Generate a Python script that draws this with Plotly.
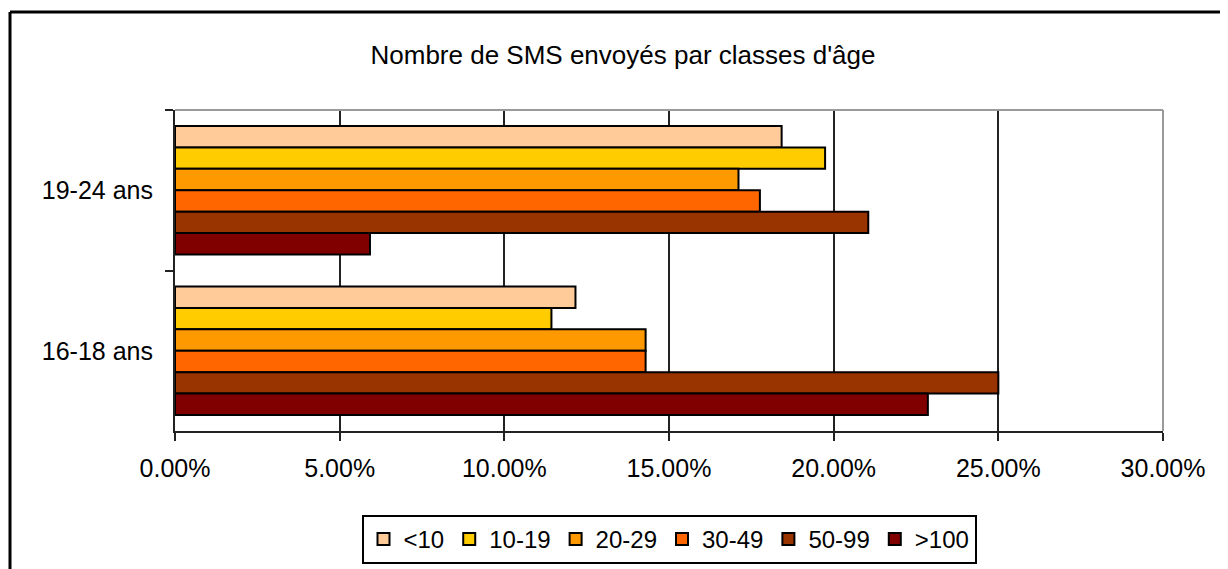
import plotly.graph_objects as go

categories = ["19-24 ans", "16-18 ans"]
series_names = ["<10", "10-19", "20-29", "30-49", "50-99", ">100"]
values_19_24 = [0.1842, 0.1974, 0.1711, 0.1776, 0.2105, 0.0592]
values_16_18 = [0.1216, 0.1143, 0.1429, 0.1429, 0.2500, 0.2286]
colors = ["#FFCC99", "#FFCC00", "#FF9900", "#FF6600", "#993300", "#800000"]
x_ticks = [0, 0.05, 0.10, 0.15, 0.20, 0.25, 0.30]

FONT = "Liberation Sans, Arial, sans-serif"

fig = go.Figure()
for i, name in enumerate(series_names):
    fig.add_trace(go.Bar(
        y=categories,
        x=[values_19_24[i], values_16_18[i]],
        name=name,
        orientation="h",
        marker=dict(color=colors[i], line=dict(color="black", width=2)),
    ))

# the page body has an 8px margin, so the figure starts at (8, 8) in the window
OFF = 8
W, H = 1228, 569
L, T = 175 - OFF, 110 - OFF
R = (W + OFF) - 1163
B = (H + OFF) - 431
pw = W - L - R
ph = H - T - B

def px_x(x):
    return (x - OFF - L) / pw

def px_y(y):
    return (H - B - (y - OFF)) / ph

shapes = [
    dict(type="line", xref="x domain", yref="y domain", x0=0, x1=1, y0=1, y1=1,
         line=dict(color="#9a9a9a", width=2), layer="above"),
    dict(type="line", xref="x domain", yref="y domain", x0=1, x1=1, y0=0, y1=1,
         line=dict(color="#9a9a9a", width=2), layer="above"),
    dict(type="line", xref="paper", yref="paper", x0=px_x(10), x1=px_x(1250), y0=px_y(12), y1=px_y(12),
         line=dict(color="black", width=3)),
    dict(type="line", xref="paper", yref="paper", x0=px_x(10), x1=px_x(10), y0=px_y(12), y1=px_y(590),
         line=dict(color="black", width=3)),
]

fig.update_layout(
    width=W, height=H,
    margin=dict(l=L, r=R, t=T, b=B, pad=0),
    paper_bgcolor="white",
    plot_bgcolor="white",
    barmode="group",
    bargap=0.2,
    bargroupgap=0,
    font=dict(family=FONT, size=25, color="black"),
    title=dict(text="Nombre de SMS envoyés par classes d'âge", x=(623 - OFF) / W, xref="container",
               xanchor="center", y=1 - (55 - OFF) / H, yanchor="middle", yref="container",
               font=dict(family=FONT, size=26, color="black")),
    showlegend=True,
    legend=dict(orientation="h", x=0.5, xanchor="center", y=px_y(515), yanchor="top",
                bgcolor="white", bordercolor="black", borderwidth=2, traceorder="normal",
                font=dict(family=FONT, size=24, color="black"), itemclick=False),
    shapes=shapes,
    xaxis=dict(range=[0, 0.30], tickvals=x_ticks, tickformat=".2%",
               showgrid=True, gridcolor="#222222", gridwidth=2,
               showline=True, linecolor="#222222", linewidth=2,
               ticks="outside", ticklen=8, tickwidth=2, tickcolor="#222222",
               ticklabelstandoff=6, zeroline=False, fixedrange=True),
    yaxis=dict(type="category", categoryorder="array", categoryarray=categories,
               autorange="reversed", tickson="boundaries",
               showgrid=False, showline=True, linecolor="#222222", linewidth=2,
               ticks="outside", ticklen=8, tickwidth=2, tickcolor="#222222",
               ticklabelstandoff=15, zeroline=False, fixedrange=True),
)

fig.write_html("out.html")
